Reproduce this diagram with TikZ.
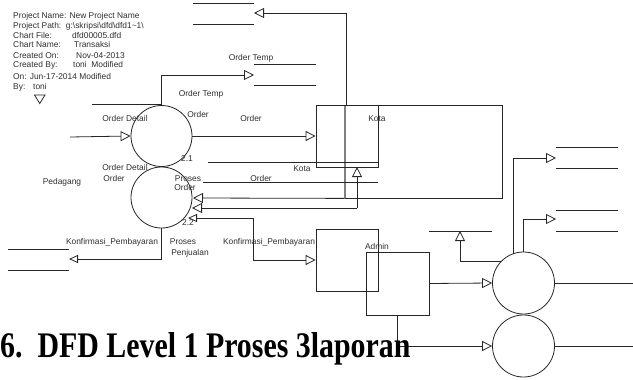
\documentclass[tikz,border=0pt]{standalone}
\usepackage{fontspec}
\setmainfont{Liberation Sans}
\newfontfamily\titlefont{Liberation Serif}
\usetikzlibrary{arrows.meta}
\tikzset{
  lbl/.style={font=\fontsize{8.4}{9}\selectfont, inner sep=0pt, text=black!82, anchor=base},
  info/.style={lbl, anchor=base west},
  proc/.style={circle, draw=black!85, line width=0.8pt, minimum size=61pt, inner sep=0pt},
  ent/.style={draw=black!85, line width=0.8pt, inner sep=0pt},
  ln/.style={draw=black!85, line width=0.8pt},
  flowarr/.style={ln, -{Triangle[open,length=10pt,width=10pt,line width=0.8pt]}},
  flowarrs/.style={ln, -{Triangle[open,length=9pt,width=8pt,line width=0.8pt]}},
}
\begin{document}
\begin{tikzpicture}[x=1pt,y=-1pt]
\useasboundingbox (0,0) rectangle (633,380);

% ---------- header information ----------
\node[info] (i1) at (13,18) {Project Name: New Project Name};
\node[info] (i2) at (13,28) {Project Path:\ \ g:\textbackslash skripsi\textbackslash dfd\textbackslash dfd1\textasciitilde 1\textbackslash};
\node[info] (i3) at (13,38) {Chart File:};
\node[info] (i3v) at (72,38) {dfd00005.dfd};
\node[info] (i4) at (13,48) {Chart Name:};
\node[info] (i4v) at (74,48) {Transaksi};
\node[info] (i5) at (13,58) {Created On:};
\node[info] (i5v) at (76,58) {Nov-04-2013};
\node[info] (i6) at (13,67) {Created By:};
\node[info] (i6v) at (73,67) {toni\ \ Modified};
\node[info] (i7) at (13,79) {On: Jun-17-2014 Modified};
\node[info] (i8) at (13,89) {By:};
\node[info] (i8v) at (33,89) {toni};
\draw[ln] (34.5,95) -- (45,95) -- (39.75,103.5) -- cycle;

% ---------- processes ----------
\node[proc] (c1) at (161.5,136) {};
\node[proc] (c2) at (161.5,197.5) {};
\node[proc, minimum size=62pt] (c3) at (523.5,283) {};
\node[proc, minimum size=62pt] (c4) at (523.5,346) {};

% ---------- entities ----------
\node[ent, minimum width=157pt, minimum height=93pt] (kota2) at (423.5,151.5) {};
\draw[gray, line width=1.8pt] (345,106) -- (345,198);
\node[ent, minimum width=62pt, minimum height=62pt] (kota1) at (347,136) {};
\node[ent, minimum width=62pt, minimum height=62pt] (kp) at (347,260) {};
\node[ent, minimum width=63pt, minimum height=63pt] (adm) at (397.5,283.5) {};

% ---------- data store lines ----------
\draw[ln] (193,3) -- (254,3) (193,24) -- (254,24);
\draw[ln] (254,64) -- (316,64) (254,85) -- (316,85);
\draw[ln] (92,104) -- (161.5,104);
\draw[ln] (8,249) -- (69,249) (8,270) -- (69,270);
\draw[ln] (556,147) -- (618,147) (556,168) -- (618,168);
\draw[ln] (556,210) -- (618,210) (556,231) -- (618,231);
\draw[ln] (429,231) -- (492,231);
\draw[ln] (208,162) -- (378,162);
\draw[ln] (203,182) -- (378,182);

% ---------- coordinates ----------
\coordinate (s1) at (254,13);
\coordinate (s2) at (254,75);
\coordinate (pin) at (70,137);
\coordinate (s4) at (69,259);
\coordinate (s5) at (556,158);
\coordinate (s6) at (556,219);
\coordinate (s7) at (460,231);
\coordinate (e3) at (633,283);
\coordinate (e4) at (633,346);

% ---------- flows ----------
\draw[flowarr] ([xshift=2pt]kota2.north west) |- (s1);
\draw[flowarr] (c1.north) |- (s2);
\draw[flowarr] (pin) -- (c1.west);
\draw[flowarr] (c1.east) -- (kota1.west);
\draw[flowarr] (kota2.south west) -- (193,198);
\draw[flowarr] (357,208) -- (357,167);
\draw[flowarr] (357,208) -- (192,208);
\draw[flowarrs] (253,218) -- (188,218);
\draw[flowarr] (253,218) |- (kp.west);
\draw[flowarrs] (c2.south) |- (s4);
\draw[flowarr] (adm.east) -- (c3.west);
\draw[flowarr] (adm.south) |- (c4.west);
\draw[ln] (c3.east) -- (e3);
\draw[ln] (c4.east) -- (e4);
\draw[flowarr] (c3.137) -| (s7);
\draw[flowarr] (513,254) |- (s5);
\draw[flowarr] (c3.north) |- (s6);

% ---------- labels ----------
\node[lbl] (l1) at (251,60) {Order Temp};
\node[lbl] (l2) at (201,96) {Order Temp};
\node[lbl] (l3) at (125,121) {Order Detail};
\node[lbl] (l4) at (198,117) {Order};
\node[lbl] (l5) at (251,121) {Order};
\node[lbl] (l6) at (377,121) {Kota};
\node[lbl] (l7) at (187,161) {2.1};
\node[lbl] (l8) at (302,171) {Kota};
\node[lbl] (l9) at (125,170) {Order Detail};
\node[lbl] (l10) at (114,181) {Order};
\node[lbl] (l11) at (62,184) {Pedagang};
\node[lbl] (l12) at (188,181) {Proses};
\node[lbl] (l13) at (261,181) {Order};
\node[lbl] (l14) at (185,190) {Order};
\node[lbl] (l15) at (188,225) {2.2};
\node[lbl] (l16) at (112,244) {Konfirmasi\_Pembayaran};
\node[lbl] (l17) at (183,244) {Proses};
\node[lbl] (l18) at (190,255) {Penjualan};
\node[lbl] (l19) at (269,244) {Konfirmasi\_Pembayaran};
\node[lbl] (l20) at (377,249) {Admin};

% ---------- title ----------
\node[anchor=base west, inner sep=0pt, font=\titlefont\bfseries\fontsize{36}{36}\selectfont] (title) at (0,357) {\scalebox{0.83}[1]{6.\ \ DFD Level 1 Proses 3laporan}};
\end{tikzpicture}
\end{document}
